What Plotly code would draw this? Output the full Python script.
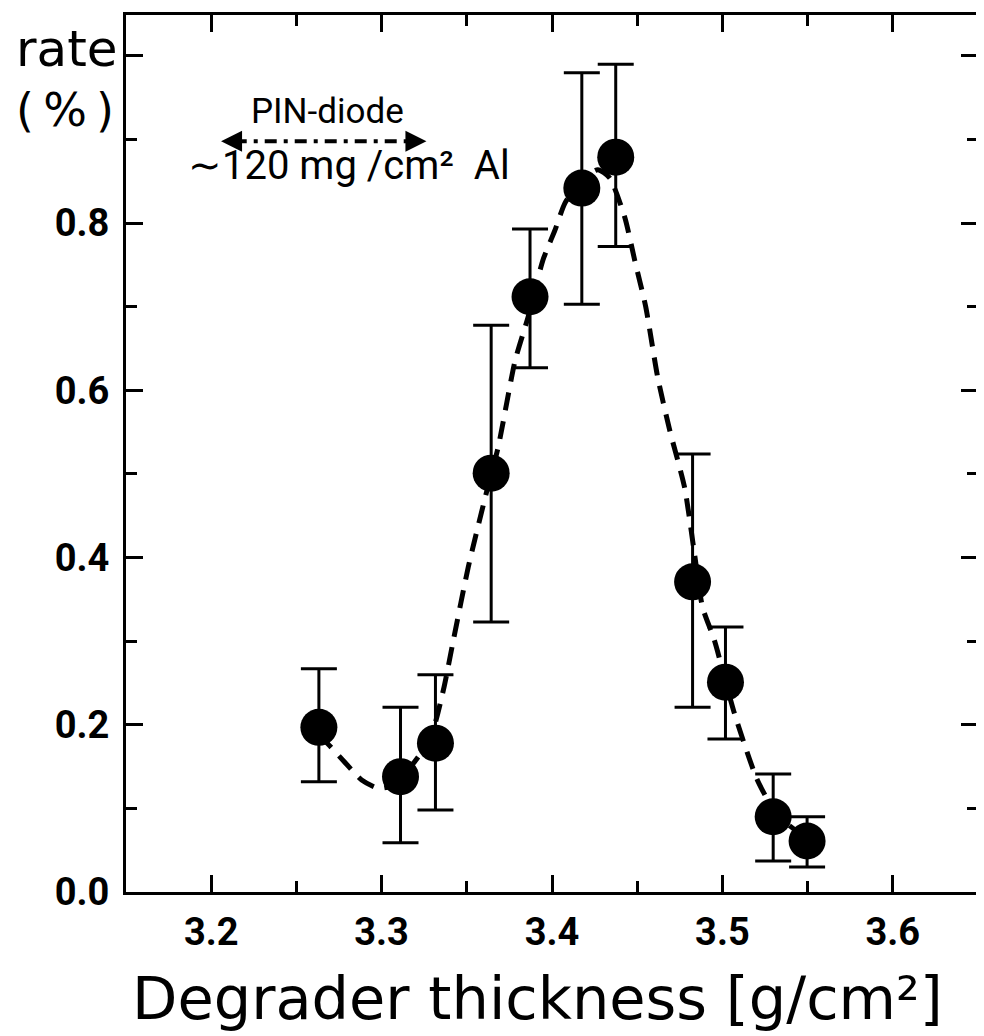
import plotly.graph_objects as go

# ---- data ----
thickness = [3.2632, 3.3111, 3.3316, 3.3643, 3.3871, 3.4175, 3.4374, 3.4825, 3.5018, 3.5298, 3.5497]
rate = [0.197, 0.138, 0.178, 0.501, 0.712, 0.842, 0.879, 0.371, 0.251, 0.090, 0.061]
err_up = [0.070, 0.083, 0.082, 0.177, 0.081, 0.138, 0.111, 0.153, 0.066, 0.051, 0.029]
err_down = [0.065, 0.079, 0.080, 0.178, 0.085, 0.139, 0.107, 0.150, 0.068, 0.053, 0.031]

curve_x = [3.2632, 3.2690, 3.2789, 3.2883, 3.2982, 3.3070, 3.3187, 3.3287, 3.3363, 3.3421,
           3.3509, 3.3608, 3.3684, 3.3784, 3.3860, 3.3947, 3.4018, 3.4076, 3.4175, 3.4269,
           3.4339, 3.4427, 3.4485, 3.4550, 3.4620, 3.4690, 3.4778, 3.4836, 3.4883, 3.4953,
           3.5070, 3.5205, 3.5322, 3.5468]
curve_y = [0.188, 0.176, 0.154, 0.134, 0.124, 0.128, 0.154, 0.184, 0.242, 0.301,
           0.389, 0.472, 0.532, 0.636, 0.688, 0.756, 0.792, 0.824, 0.852, 0.864,
           0.854, 0.807, 0.756, 0.700, 0.616, 0.553, 0.484, 0.405, 0.341, 0.301,
           0.214, 0.134, 0.092, 0.068]

x_ticks = [3.2, 3.3, 3.4, 3.5, 3.6]
x_ticklabels = ["3.2", "3.3", "3.4", "3.5", "3.6"]
y_ticks = [0.0, 0.2, 0.4, 0.6, 0.8, 1.0]
y_ticklabels = ["0.0", "0.2", "0.4", "0.6", "0.8", ""]

pin_range_x = [3.2058, 3.3263]
pin_y = 0.898

TXT = "DejaVu Sans"
NUM = "Roboto"

fig = go.Figure()

fig.add_trace(go.Scatter(
    x=curve_x, y=curve_y, mode="lines",
    line=dict(color="black", width=5, dash="18px,11px", shape="spline", smoothing=0.6),
    hoverinfo="skip", showlegend=False))

fig.add_trace(go.Scatter(
    x=thickness, y=rate, mode="markers",
    marker=dict(color="black", size=37, line=dict(width=0)),
    error_y=dict(type="data", symmetric=False, array=err_up, arrayminus=err_down,
                 color="black", thickness=3, width=18),
    showlegend=False))

# PIN-diode range line (dash-dot) with arrowheads
fig.add_shape(type="line", xref="x", yref="y",
              x0=pin_range_x[0] + 0.008, x1=pin_range_x[1] - 0.008, y0=pin_y, y1=pin_y,
              line=dict(color="black", width=4, dash="12px,7px,4px,7px"))
fig.add_annotation(x=pin_range_x[0], y=pin_y, xref="x", yref="y", ax=18, ay=0,
                   text="", showarrow=True, arrowhead=2, arrowsize=1.4, arrowwidth=3,
                   arrowcolor="black")
fig.add_annotation(x=pin_range_x[1], y=pin_y, xref="x", yref="y", ax=-18, ay=0,
                   text="", showarrow=True, arrowhead=2, arrowsize=1.4, arrowwidth=3,
                   arrowcolor="black")

# the page body adds an 8px offset; work in page pixels and subtract it
OFF = 8
W, H = 984 - OFF, 1036 - OFF
L, R, T, B = 126 - OFF, 6, 15 - OFF, 144
pw, ph = W - L - R, H - T - B

def px(xp):
    return (xp - OFF - L) / pw

def py(yp):
    return (H - B - (yp - OFF)) / ph

fig.add_annotation(x=px(327), y=py(111), xref="paper", yref="paper",
                   text="PIN-diode", showarrow=False, xanchor="center", yanchor="middle",
                   font=dict(family=NUM, size=35, color="black"))
fig.add_annotation(x=px(186), y=py(166), xref="paper", yref="paper",
                   text="∼120 mg /cm²  Al", showarrow=False,
                   xanchor="left", yanchor="middle",
                   font=dict(family=NUM, size=40, color="black"))

fig.add_annotation(x=px(14), y=py(49), xref="paper", yref="paper",
                   text="rate", showarrow=False, xanchor="left", yanchor="middle",
                   font=dict(family=TXT, size=50, color="black"))
fig.add_annotation(x=px(14), y=py(110), xref="paper", yref="paper",
                   text="(\u2009%\u2009)", showarrow=False, xanchor="left", yanchor="middle",
                   font=dict(family=TXT, size=46, color="black"))

fig.add_annotation(x=px(537), y=py(998), xref="paper", yref="paper",
                   text="Degrader thickness [g/cm²]", showarrow=False,
                   xanchor="center", yanchor="middle",
                   font=dict(family=TXT, size=59, color="black"))

axis_common = dict(
    showline=True, linecolor="black", linewidth=3, mirror="ticks",
    ticks="inside", ticklen=17, tickwidth=3, tickcolor="black",
    showgrid=False, zeroline=False, automargin=False,
    tickfont=dict(family=NUM, size=38, color="black", weight="bold"),
)

fig.update_xaxes(range=[3.15, 3.65], tickvals=x_ticks, ticktext=x_ticklabels,
                 minor=dict(dtick=0.05, tick0=3.15, ticks="inside", ticklen=11, tickwidth=3,
                            tickcolor="black", showgrid=False),
                 ticklabelstandoff=4, **axis_common)
fig.update_yaxes(range=[0, 1.049], tickvals=y_ticks, ticktext=y_ticklabels,
                 minor=dict(dtick=0.1, tick0=0, ticks="inside", ticklen=11, tickwidth=3,
                            tickcolor="black", showgrid=False),
                 ticklabelstandoff=6, **axis_common)

fig.update_layout(
    width=W, height=H,
    margin=dict(l=L, r=R, t=T, b=B),
    paper_bgcolor="white", plot_bgcolor="white",
    showlegend=False,
)

fig.write_html("out.html")
